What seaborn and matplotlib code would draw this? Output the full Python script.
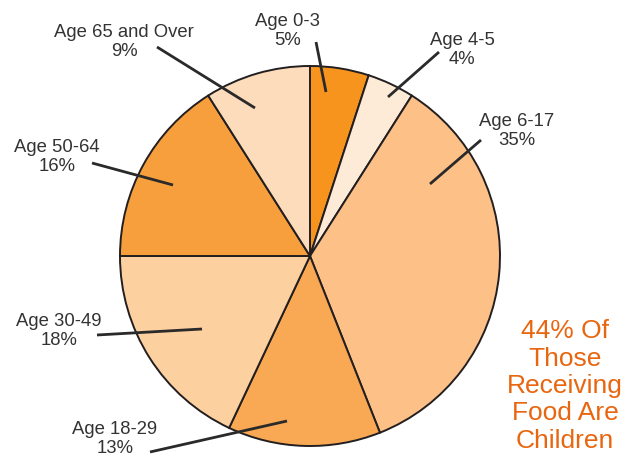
import numpy as np
import matplotlib.pyplot as plt
import seaborn as sns

sns.set_theme(style="white")
plt.rcParams['font.family'] = ['Liberation Sans', 'DejaVu Sans']

# data
groups = ["Age 0-3", "Age 4-5", "Age 6-17", "Age 18-29", "Age 30-49", "Age 50-64", "Age 65 and Over"]
shares = [5, 4, 35, 13, 18, 16, 9]
colors = ["#F7941E", "#FDEBD7", "#FDC188", "#F9A854", "#FDD09F", "#F79F3C", "#FDDCBC"]

# layout (pixel coords in the 628x459 image)
W, H = 628, 459
cx, cy, R = 310, 256, 190
label_xy = [(288, 31), (462, 50), (517, 131), (115, 439), (59, 331), (57, 157), (124, 42)]
line_out = [(316, 42), (439, 52), (481, 140), (150, 452), (97, 335), (92, 163), (157, 47)]
line_in = [(326, 92), (388, 97), (430, 184), (287, 421), (202, 329), (173, 185), (255, 108)]


def px(x, y):
    return ((x - cx) / R, (cy - y) / R)


fig = plt.figure(figsize=(W / 100, H / 100), dpi=100)
ax = fig.add_axes([0, 0, 1, 1])
ax.pie(shares, colors=colors, startangle=90, counterclock=False, radius=1,
       wedgeprops=dict(edgecolor="#231F20", linewidth=1.4))
ax.set_xlim(-cx / R, (W - cx) / R)
ax.set_ylim(-(H - cy) / R, cy / R)
ax.set_aspect("equal")
ax.axis("off")

for g, s, lxy, lo, li in zip(groups, shares, label_xy, line_out, line_in):
    x0, y0 = px(*lo)
    x1, y1 = px(*li)
    ax.plot([x0, x1], [y0, y1], color="#2a2a2a", lw=2, solid_capstyle="butt", zorder=5)
    tx, ty = px(*lxy)
    ax.text(tx, ty, f"{g}\n{s}%", ha="center", va="center", fontsize=13.3,
            color="#333333", linespacing=1.18)

child = sum(shares[:3])
tx, ty = px(565, 386)
ax.text(tx, ty, f"{child}% Of\nThose\nReceiving\nFood Are\nChildren", ha="center", va="center",
        fontsize=19, color="#E8660F", linespacing=1.18)

fig.savefig("out.png", dpi=100)
